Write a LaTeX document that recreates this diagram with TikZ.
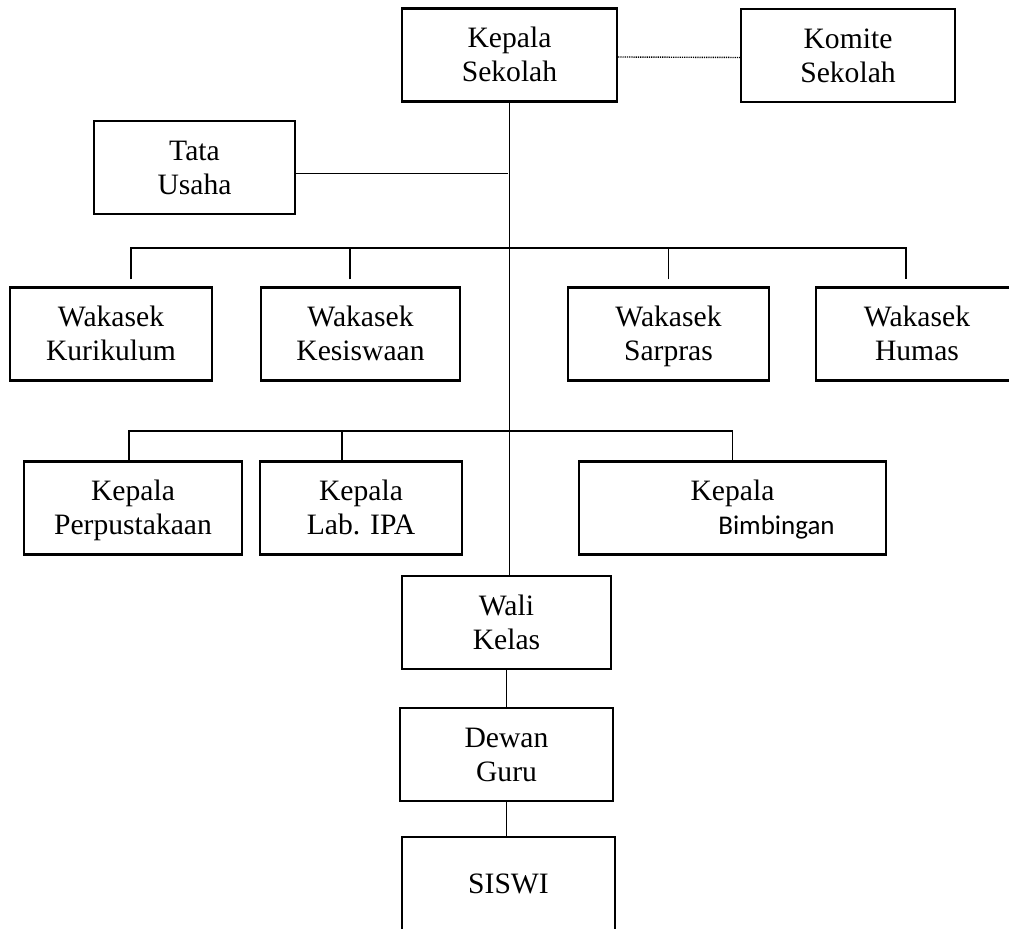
\documentclass[tikz,border=0pt]{standalone}
\usepackage{fontspec}
\setmainfont{Liberation Serif}
\newfontfamily\bimbfont{Carlito}
\newcommand\boxtext[1]{\begin{tabular}{@{}c@{}}\rule{0pt}{15pt}#1\end{tabular}}

\begin{document}
\begin{tikzpicture}[x=0.5pt, y=-0.5pt,
    unit/.style={draw, line width=1.1pt, inner sep=0pt, minimum height=46.5pt,
      font=\fontsize{14.8}{17}\selectfont},
    link/.style={line width=0.8pt},
    liaison/.style={line width=0.7pt, dash pattern=on 0.6pt off 0.5pt}
  ]
  \useasboundingbox (0,0) rectangle (1009,929);
  \clip (0,0) rectangle (1009,929);

  \node[unit, minimum width=107.5pt] (ks)  at (509.5,55)  {\boxtext{Kepala\\Sekolah}};
  \node[unit, minimum width=107pt]   (kom) at (848,55.5)  {\boxtext{Komite\\Sekolah}};
  \node[unit, minimum width=100.5pt] (tu)  at (194.5,167.5) {\boxtext{Tata\\Usaha}};

  \node[unit, minimum width=101pt]   (kur) at (111,334)   {\boxtext{Wakasek\\Kurikulum}};
  \node[unit, minimum width=99.5pt]  (kes) at (360.5,334) {\boxtext{Wakasek\\Kesiswaan}};
  \node[unit, minimum width=100.5pt] (sar) at (668.5,334) {\boxtext{Wakasek\\Sarpras}};
  \node[unit, minimum width=101pt]   (hum) at (917,334)   {\boxtext{Wakasek\\Humas}};

  \node[unit, minimum width=109pt]   (per) at (133,508)   {\boxtext{Kepala\\Perpustakaan}};
  \node[unit, minimum width=101pt]   (lab) at (361,508)   {\boxtext{Kepala\\Lab. IPA}};
  \node[unit, minimum width=153.5pt] (bim) at (732.5,508) {\boxtext{Kepala\\\hspace*{44pt}{\bimbfont\fontsize{13.5}{16}\selectfont Bimbingan}}};

  \node[unit, minimum width=104.5pt] (wali) at (506.5,622.5) {\boxtext{Wali\\Kelas}};
  \node[unit, minimum width=106.5pt] (dg)   at (506.5,754.5) {\boxtext{Dewan\\Guru}};
  \node[unit, minimum width=106.5pt] (sis)  at (508.5,883.5) {\boxtext{SISWI}};

  \coordinate (wbar) at (509,248);
  \coordinate (kbar) at (509,431);

  \draw[liaison] ([yshift=-1pt]ks.east) -- ([yshift=-1pt]kom.west);
  \draw[link] (ks.south) -- (ks.south |- wali.north);
  \draw[link] ([yshift=-3pt]tu.east) -- ([yshift=-3pt,xshift=-1pt]tu.east -| ks.south);

  \draw[link] ([shift={(10pt,3.5pt)}]kur.north) |- (wbar) -| ([shift={(-5.5pt,3.5pt)}]hum.north);
  \draw[link] ([shift={(-5.25pt,3.5pt)}]kes.north) -- ([xshift=-5.25pt]kes.north |- wbar);
  \draw[link] ([yshift=3.5pt]sar.north) -- (sar.north |- wbar);

  \draw[link] ([xshift=-2pt]per.north) |- (kbar) -| (bim.north);
  \draw[link] ([xshift=-9.5pt]lab.north) -- ([xshift=-9.5pt]lab.north |- kbar);

  \draw[link] (wali.south) -- (dg.north);
  \draw[link] (dg.south) -- (dg.south |- sis.north);
\end{tikzpicture}
\end{document}
